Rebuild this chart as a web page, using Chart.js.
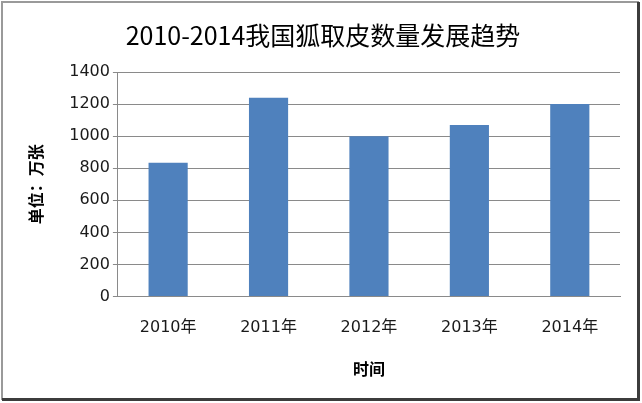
<!DOCTYPE html>
<html>
<head>
<meta charset="utf-8">
<script src="https://cdn.jsdelivr.net/npm/chart.js@4/dist/chart.umd.min.js"></script>
<style>
    html, body { margin: 0; padding: 0; background: #fff; }
    #wrap { position: relative; width: 642px; height: 403px; }
</style>
</head>
<body>
<div id="wrap"><canvas id="foxChart"></canvas></div>
<script>
// Données du graphique
const years = ['2010年', '2011年', '2012年', '2013年', '2014年'];
const peltCounts = [835, 1240, 1000, 1070, 1200];
const yTicks = [0, 200, 400, 600, 800, 1000, 1200, 1400];

const chartTitle = '2010-2014我国狐取皮数量发展趋势';
const xTitle = '时间';
const yTitle = '单位：万张';

const gridColor = '#8a8a8a';
const cjk = '"Noto Sans CJK SC", sans-serif';

// Cadre autour du graphique
const framePlugin = {
    id: 'frame',
    afterDraw(chart) {
        const ctx = chart.ctx;
        ctx.save();
        ctx.strokeStyle = '#9a9a9a';
        ctx.lineWidth = 2;
        ctx.strokeRect(2, 2, 636, 397);
        ctx.fillStyle = '#3c3c3c';
        ctx.fillRect(637, 2, 3, 399);
        ctx.fillRect(2, 398, 638, 3);
        ctx.restore();
    }
};

new Chart(document.getElementById('foxChart'), {
    type: 'bar',
    data: {
        labels: years,
        datasets: [{
            label: '数量',
            data: peltCounts,
            backgroundColor: '#4f81bd',
            barPercentage: 0.39,
            categoryPercentage: 1
        }]
    },
    options: {
        responsive: true,
        maintainAspectRatio: false,
        animation: false,
        layout: {
            padding: { top: 14, right: 22, bottom: 24, left: 26 }
        },
        plugins: {
            legend: { display: false },
            tooltip: { enabled: false },
            title: {
                display: true,
                text: chartTitle,
                color: '#000',
                font: { family: cjk, size: 25, weight: 'normal' },
                padding: { top: 6, bottom: 22 }
            }
        },
        scales: {
            x: {
                grid: { display: false },
                border: { display: true, color: gridColor, width: 1 },
                ticks: {
                    color: '#1a1a1a',
                    font: { family: '"DejaVu Sans", ' + cjk, size: 16 },
                    padding: 14,
                    maxRotation: 0
                },
                title: {
                    display: true,
                    text: xTitle,
                    color: '#000',
                    font: { family: cjk, size: 16, weight: 'bold' },
                    padding: { top: 8, bottom: 0 }
                }
            },
            y: {
                min: 0,
                max: 1400,
                afterBuildTicks(axis) {
                    axis.ticks = yTicks.map(v => ({ value: v }));
                },
                grid: {
                    color: gridColor,
                    drawTicks: true,
                    tickLength: 5
                },
                border: { display: true, color: gridColor, width: 1 },
                ticks: {
                    color: '#1a1a1a',
                    font: { family: '"DejaVu Sans", sans-serif', size: 16 },
                    padding: 3,
                    callback: v => String(v)
                },
                title: {
                    display: true,
                    text: yTitle,
                    color: '#000',
                    font: { family: cjk, size: 16, weight: 'bold' },
                    padding: { top: 0, bottom: 21 }
                }
            }
        }
    },
    plugins: [framePlugin]
});
</script>
</body>
</html>
